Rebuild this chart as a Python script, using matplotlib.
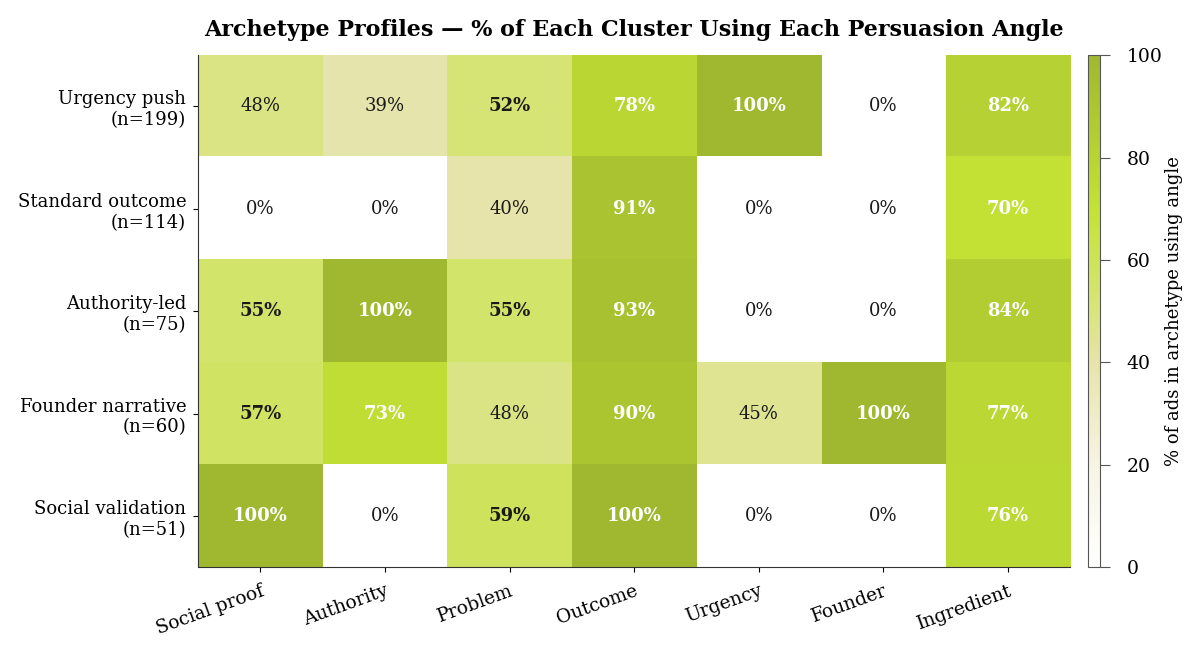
import numpy as np
import matplotlib
matplotlib.use("Agg")
import matplotlib.pyplot as plt
from matplotlib.colors import LinearSegmentedColormap

# Data
archetypes = ["Urgency push\n(n=199)", "Standard outcome\n(n=114)", "Authority-led\n(n=75)",
              "Founder narrative\n(n=60)", "Social validation\n(n=51)"]
angles = ["Social proof", "Authority", "Problem", "Outcome", "Urgency", "Founder", "Ingredient"]

urgency_push = [48, 39, 52, 78, 100, 0, 82]
standard_outcome = [0, 0, 40, 91, 0, 0, 70]
authority_led = [55, 100, 55, 93, 0, 0, 84]
founder_narrative = [57, 73, 48, 90, 45, 100, 77]
social_validation = [100, 0, 59, 100, 0, 0, 76]

values = np.array([urgency_push, standard_outcome, authority_led,
                   founder_narrative, social_validation], dtype=float)

plt.rcParams['font.family'] = ['DejaVu Serif']

# Colormap: white -> beige -> lime -> olive
cmap = LinearSegmentedColormap.from_list(
    "lime",
    [(0.0, "#ffffff"), (0.2, "#f6f4e2"), (0.4, "#e6e4aa"), (0.5, "#d8e57c"),
     (0.7, "#c3e235"), (1.0, "#a0b830")])

fig = plt.figure(figsize=(12, 6.49), dpi=100)
ax = fig.add_axes([0.165, 0.126, 0.727, 0.789])
cax = fig.add_axes([0.907, 0.126, 0.010, 0.789])

im = ax.imshow(values, cmap=cmap, vmin=0, vmax=100, aspect="auto")

for i in range(values.shape[0]):
    for j in range(values.shape[1]):
        v = values[i, j]
        if v >= 60:
            color, weight = "white", "bold"
        elif v >= 50:
            color, weight = "#1a1a1a", "bold"
        else:
            color, weight = "#1a1a1a", "normal"
        ax.text(j, i, f"{v:.0f}%", ha="center", va="center",
                fontsize=13, color=color, fontweight=weight)

ax.set_xticks(range(len(angles)))
ax.set_xticklabels(angles, rotation=20, ha="right", rotation_mode="anchor",
                   fontsize=13.5)
ax.tick_params(axis="x", pad=7)
ax.set_yticks(range(len(archetypes)))
ax.set_yticklabels(archetypes, fontsize=13)
ax.tick_params(axis="y", pad=5)
for s in ["top", "right"]:
    ax.spines[s].set_visible(False)
for s in ["left", "bottom"]:
    ax.spines[s].set_color("#333333")

ax.set_title("Archetype Profiles \u2014 % of Each Cluster Using Each Persuasion Angle",
             fontsize=16, fontweight="bold", pad=14)

cb = fig.colorbar(im, cax=cax)
cb.set_label("% of ads in archetype using angle", fontsize=13, labelpad=2)
cb.ax.tick_params(labelsize=13.5, length=7, pad=12, color="#555555")
cb.outline.set_edgecolor("#555555")

plt.savefig("out.png", dpi=100)
